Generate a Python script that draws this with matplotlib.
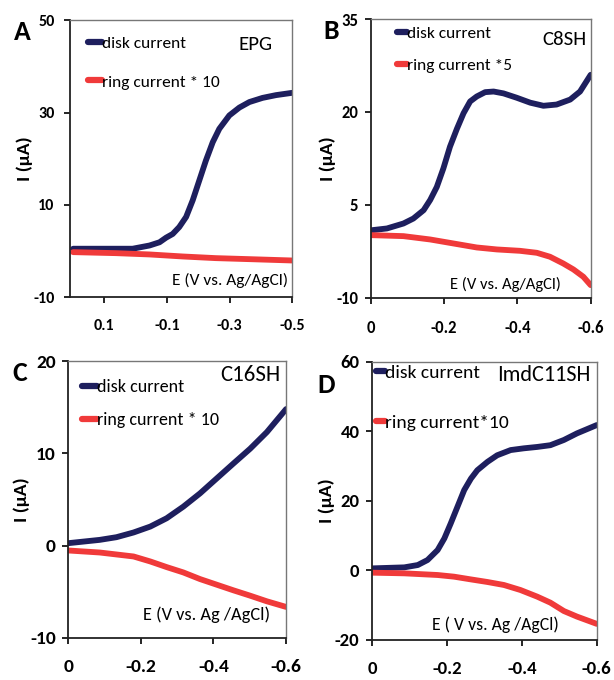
import matplotlib
matplotlib.use("Agg")
import matplotlib.pyplot as plt

plt.rcParams['font.family'] = ['Carlito', 'Roboto Condensed', 'Lato', 'DejaVu Sans']

DISK = '#1e1f5e'
RING = '#f03a3a'

# panel A: EPG
a_disk_e = [0.2, 0.01, -0.044, -0.076, -0.097, -0.118, -0.139, -0.161, -0.182, -0.203,
            -0.224, -0.246, -0.267, -0.299, -0.331, -0.363, -0.405, -0.448, -0.5]
a_disk_i = [0.5, 0.5, 1.2, 1.9, 2.9, 3.7, 5.2, 7.4, 11.0, 15.3,
            19.6, 23.6, 26.5, 29.4, 31.1, 32.3, 33.2, 33.8, 34.3]
a_ring_e = [0.2, 0.063, -0.044, -0.15, -0.256, -0.363, -0.5]
a_ring_i = [-0.24, -0.46, -0.74, -1.18, -1.54, -1.76, -2.05]

# panel B: C8SH
b_disk_e = [0.0, -0.044, -0.089, -0.116, -0.144, -0.162, -0.18, -0.198, -0.216, -0.235, -0.253,
            -0.271, -0.289, -0.312, -0.335, -0.362, -0.398, -0.435, -0.471, -0.507, -0.544,
            -0.571, -0.6]
b_disk_i = [0.9, 1.2, 2.0, 2.8, 4.15, 5.8, 7.9, 10.9, 14.4, 17.3, 19.8,
            21.7, 22.5, 23.2, 23.3, 23.0, 22.3, 21.5, 21.0, 21.2, 22.0,
            23.3, 26.0]
b_ring_e = [0.0, -0.089, -0.162, -0.225, -0.289, -0.344, -0.407, -0.453, -0.489, -0.525,
            -0.553, -0.58, -0.6]
b_ring_i = [0.12, -0.04, -0.58, -1.22, -1.87, -2.19, -2.41, -2.73, -3.37, -4.45,
            -5.42, -6.6, -7.95]

# panel C: C16SH
c_disk_e = [0.0, -0.087, -0.133, -0.18, -0.226, -0.271, -0.317, -0.363, -0.409, -0.455,
            -0.501, -0.547, -0.6]
c_disk_i = [0.26, 0.62, 0.91, 1.42, 2.06, 2.96, 4.22, 5.66, 7.28, 8.9,
            10.5, 12.3, 14.8]
c_ring_e = [0.0, -0.087, -0.18, -0.226, -0.271, -0.317, -0.363, -0.409, -0.455, -0.501,
            -0.547, -0.6]
c_ring_i = [-0.53, -0.75, -1.18, -1.72, -2.33, -2.91, -3.63, -4.24, -4.85, -5.43,
            -6.04, -6.65]

# panel D: ImdC11SH
d_disk_e = [0.0, -0.086, -0.122, -0.148, -0.175, -0.193, -0.21, -0.228, -0.246, -0.264,
            -0.281, -0.308, -0.334, -0.37, -0.405, -0.441, -0.476, -0.512, -0.547, -0.6]
d_disk_i = [0.57, 0.86, 1.53, 2.97, 5.84, 9.2, 13.5, 18.3, 23.1, 26.4,
            28.8, 31.2, 33.1, 34.6, 35.1, 35.5, 36.0, 37.5, 39.4, 41.8]
d_ring_e = [0.0, -0.086, -0.175, -0.219, -0.263, -0.308, -0.352, -0.396, -0.441, -0.476,
            -0.512, -0.547, -0.6]
d_ring_i = [-0.67, -0.86, -1.34, -1.82, -2.59, -3.35, -4.21, -5.65, -7.57, -9.29,
            -11.7, -13.3, -15.4]

panels = [
    dict(letter='A', name='EPG', ring_label='ring current * 10',
         disk=(a_disk_e, a_disk_i), ring=(a_ring_e, a_ring_i),
         xlim=(0.21, -0.5), xticks=[0.1, -0.1, -0.3, -0.5],
         ylim=(-10, 50), yticks=[-10, 10, 30, 50],
         elabel='E (V vs. Ag/AgCl)',
         pos=[0.114, 0.563, 0.362, 0.407],
         leg_at=(0.08, 0.943), leg_sp=1.33, leg_fs=12.5, hlen=0.8,
         name_at=(0.91, 0.913), name_fs=15,
         el_at=(0.982, 0.061), el_fs=12.5,
         letter_at=(-0.25, 1.0), tick_fs=11.5, xpad=12, ypad=7),
    dict(letter='B', name='C8SH', ring_label='ring current *5',
         disk=(b_disk_e, b_disk_i), ring=(b_ring_e, b_ring_i),
         xlim=(0, -0.6), xticks=[0, -0.2, -0.4, -0.6],
         ylim=(-10, 35), yticks=[-10, 5, 20, 35],
         elabel='E (V vs. Ag/AgCl)',
         pos=[0.604, 0.562, 0.358, 0.410],
         leg_at=(0.118, 0.975), leg_sp=0.95, leg_fs=12.5, hlen=0.6,
         name_at=(0.982, 0.925), name_fs=15,
         el_at=(0.864, 0.047), el_fs=12,
         letter_at=(-0.215, 1.0), tick_fs=12, xpad=12, ypad=5),
    dict(letter='C', name='C16SH', ring_label='ring current * 10',
         disk=(c_disk_e, c_disk_i), ring=(c_ring_e, c_ring_i),
         xlim=(0, -0.6), xticks=[0, -0.2, -0.4, -0.6],
         ylim=(-10, 20), yticks=[-10, 0, 10, 20],
         elabel='E (V vs. Ag /AgCl)',
         pos=[0.111, 0.062, 0.355, 0.407],
         leg_at=(0.064, 0.934), leg_sp=0.92, leg_fs=13, hlen=0.8,
         name_at=(0.972, 0.95), name_fs=16.5,
         el_at=(0.927, 0.083), el_fs=13.2,
         letter_at=(-0.255, 1.0), tick_fs=14, xpad=11, ypad=5),
    dict(letter='D', name='ImdC11SH', ring_label='ring current*10',
         disk=(d_disk_e, d_disk_i), ring=(d_ring_e, d_ring_i),
         xlim=(0, -0.6), xticks=[0, -0.2, -0.4, -0.6],
         ylim=(-20, 60), yticks=[-20, 0, 20, 40, 60],
         elabel='E ( V vs. Ag /AgCl)',
         pos=[0.606, 0.059, 0.366, 0.409],
         leg_at=(0.018, 0.992), leg_sp=1.75, leg_fs=14, hlen=0.45,
         name_at=(0.973, 0.953), name_fs=16,
         el_at=(0.831, 0.054), el_fs=12.8,
         letter_at=(-0.245, 0.96), tick_fs=13.5, xpad=11, ypad=5),
]

fig = plt.figure(figsize=(6.14, 6.80), dpi=100)

for p in panels:
    ax = fig.add_axes(p['pos'])
    ax.plot(p['disk'][0], p['disk'][1], color=DISK, lw=4.2, label='disk current',
            solid_capstyle='round', solid_joinstyle='round')
    ax.plot(p['ring'][0], p['ring'][1], color=RING, lw=4.2, label=p['ring_label'],
            solid_capstyle='round', solid_joinstyle='round')
    ax.set_xlim(*p['xlim'])
    ax.set_ylim(*p['ylim'])
    ax.set_xticks(p['xticks'])
    ax.set_yticks(p['yticks'])
    ax.set_xticklabels(['%g' % t for t in p['xticks']], fontsize=p['tick_fs'], fontweight='bold')
    ax.set_yticklabels(['%g' % t for t in p['yticks']], fontsize=p['tick_fs'], fontweight='bold')
    ax.tick_params(axis='x', direction='out', length=4, width=1.2, pad=p['xpad'])
    ax.tick_params(axis='y', direction='out', length=4, width=1.2, pad=p['ypad'])
    for side in ['left', 'bottom']:
        ax.spines[side].set_color('#222222')
        ax.spines[side].set_linewidth(1.3)
    for side in ['top', 'right']:
        ax.spines[side].set_color('#777777')
        ax.spines[side].set_linewidth(1.0)
    ax.set_ylabel('I (\u03bcA)', fontsize=14, fontweight='bold', labelpad=0)

    leg = ax.legend(loc='upper left', bbox_to_anchor=p['leg_at'], frameon=False,
                    fontsize=p['leg_fs'], handlelength=p['hlen'], handletextpad=0.0,
                    labelspacing=p['leg_sp'], borderaxespad=0, borderpad=0)
    for h in leg.get_lines():
        h.set_linewidth(4.5)

    ax.text(p['name_at'][0], p['name_at'][1], p['name'], transform=ax.transAxes,
            ha='right', va='center', fontsize=p['name_fs'])
    ax.text(p['el_at'][0], p['el_at'][1], p['elabel'], transform=ax.transAxes,
            ha='right', va='center', fontsize=p['el_fs'])
    ax.text(p['letter_at'][0], p['letter_at'][1], p['letter'], transform=ax.transAxes,
            ha='left', va='top', fontsize=20, fontweight='bold')

fig.savefig('out.png', dpi=100)
